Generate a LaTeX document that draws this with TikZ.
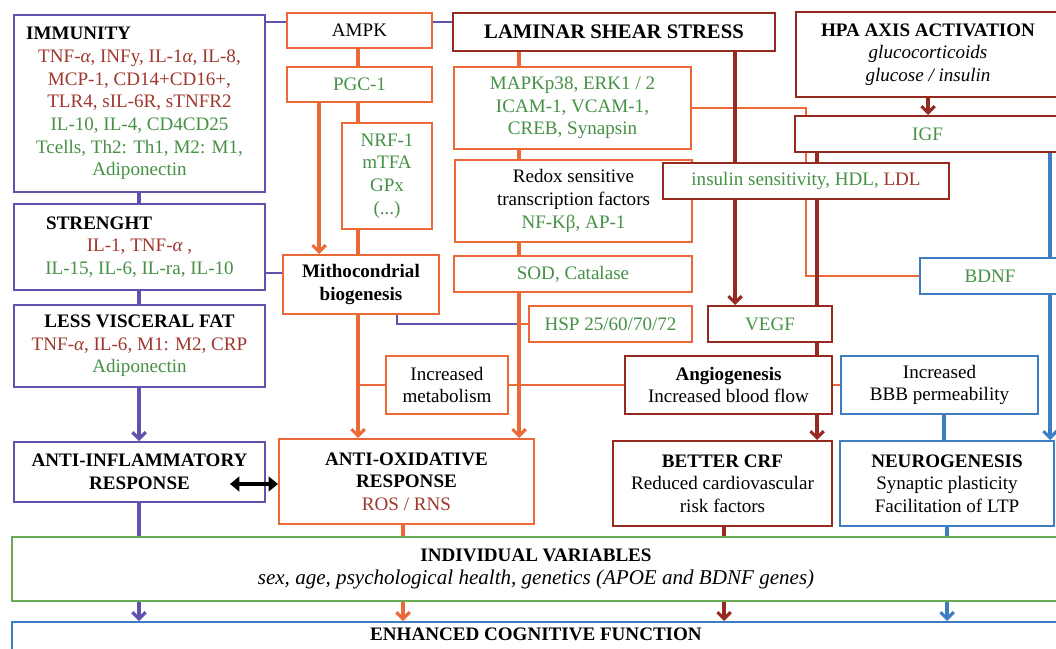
\documentclass[tikz,border=0pt]{standalone}
\usepackage{fontspec}
\setmainfont{Liberation Serif}
\usetikzlibrary{arrows.meta,calc}
\pgfdeclarelayer{back}
\pgfsetlayers{back,main}
\definecolor{cPur}{RGB}{100,80,175}
\definecolor{cOra}{RGB}{235,105,55}
\definecolor{cRed}{RGB}{150,42,32}
\definecolor{cBlu}{RGB}{60,125,195}
\definecolor{cGrnT}{RGB}{70,145,70}
\definecolor{cGrnB}{RGB}{105,170,85}
\definecolor{cRedT}{RGB}{160,55,45}
\newcommand{\gt}[1]{\textcolor{cGrnT}{#1}}
\newcommand{\rt}[1]{\textcolor{cRedT}{#1}}
\newcommand{\al}{{\itshape α}}
% box node from its corner coordinates: options, name, x1, y1, x2, y2, text
\newcommand{\putbox}[7]{%
  \pgfmathsetmacro{\bxX}{(#3+#5)/2}%
  \pgfmathsetmacro{\bxY}{(#4+#6)/2}%
  \pgfmathsetmacro{\bxW}{(#5-#3)*0.75}%
  \pgfmathsetmacro{\bxH}{(#6-#4)*0.75}%
  \node[#1, minimum width=\bxW pt, minimum height=\bxH pt] (#2) at (\bxX,\bxY) {#7};}
\begin{document}
\begin{tikzpicture}[x=0.75pt,y=-0.75pt,
  font=\fontsize{14.3}{17}\selectfont,
  bx/.style={draw=#1, line width=1.5pt, fill=white, inner sep=0pt, align=center},
  wthick/.style={draw=#1, line width=2.3pt},
  wmid/.style={draw=#1, line width=1.5pt},
  wthin/.style={draw=#1, line width=1.1pt},
  arr/.style={-{Straight Barb[length=5pt,width=10pt]}}]
\useasboundingbox (0,0) rectangle (1056,649);
\begin{pgfonlayer}{back}
  \fill[white] (0,0) rectangle (1056,649);
\end{pgfonlayer}

% column and row positions of the connectors
\coordinate (xA) at (139,0);
\coordinate (x319) at (319,0);
\coordinate (x358) at (358,0);
\coordinate (x397) at (397,0);
\coordinate (x403) at (403,0);
\coordinate (x519) at (519,0);
\coordinate (x724) at (724,0);
\coordinate (x735) at (735,0);
\coordinate (x806) at (806,0);
\coordinate (x817) at (817,0);
\coordinate (x928) at (928,0);
\coordinate (x944) at (944,0);
\coordinate (x947) at (947,0);
\coordinate (x1050) at (1050,0);
\coordinate (y22) at (0,22);
\coordinate (y108) at (0,108);
\coordinate (y273) at (0,273);
\coordinate (jHsp) at (519,324);
\coordinate (dblL) at (230,484);

% left column: immunity / strength / fat
\putbox{bx=cPur}{immu}{14}{15}{265}{192}{\makebox[170pt][l]{\textbf{IMMUNITY}}\\
  \rt{TNF-\al, INFy, IL-1\al, IL-8,}\\ \rt{MCP-1, CD14+CD16+,}\\ \rt{TLR4, sIL-6R, sTNFR2}\\
  \gt{IL-10, IL-4, CD4CD25}\\ \gt{Tcells, Th2: Th1, M2: M1,}\\ \gt{Adiponectin}}
\putbox{bx=cPur}{stre}{14}{204}{265}{290}{\makebox[140pt][l]{\textbf{STRENGHT}}\\
  \rt{IL-1, TNF-\al\ ,}\\ \gt{IL-15, IL-6, IL-ra, IL-10}}
\putbox{bx=cPur}{less}{14}{305}{265}{387}{\textbf{LESS VISCERAL FAT}\\
  \rt{TNF-\al, IL-6, M1: M2, CRP}\\ \gt{Adiponectin}}
\putbox{bx=cPur, font=\fontsize{14.3}{17}\selectfont\bfseries}{ainf}{14}{442}{265}{502}{ANTI-INFLAMMATORY\\ RESPONSE}

% AMPK branch
\putbox{bx=cOra}{ampk}{287}{13}{432}{48}{AMPK}
\putbox{bx=cOra, text=cGrnT}{pgc}{287}{67}{432}{102}{PGC-1}
\putbox{bx=cOra, text=cGrnT}{nrf}{342}{123}{432}{229}{NRF-1\\ mTFA\\ GPx\\ (...)}
\putbox{bx=cOra, font=\fontsize{14.3}{17}\selectfont\bfseries}{mito}{283}{255}{439}{314}{Mithocondrial\\ biogenesis}
\putbox{bx=cOra}{metab}{386}{356}{508}{414}{Increased\\ metabolism}
\putbox{bx=cOra}{aox}{279}{439}{534}{524}{\textbf{ANTI-OXIDATIVE}\\ \textbf{RESPONSE}\\ \rt{ROS / RNS}}

% laminar shear stress branch
\putbox{bx=cRed, font=\fontsize{15.5}{18}\selectfont\bfseries}{lam}{453}{13}{775}{51}{LAMINAR SHEAR STRESS}
\putbox{bx=cOra, text=cGrnT}{mapk}{454}{67}{691}{149}{MAPKp38, ERK1 / 2\\ ICAM-1, VCAM-1,\\ CREB, Synapsin}
\putbox{bx=cOra}{redox}{455}{160}{692}{242}{Redox sensitive\\ transcription factors\\ \gt{NF-Kβ, AP-1}}
\putbox{bx=cOra, text=cGrnT}{sod}{454}{256}{692}{292}{SOD, Catalase}
\putbox{bx=cOra, text=cGrnT}{hsp}{529}{306}{692}{342}{HSP 25/60/70/72}
\putbox{bx=cRed}{ins}{663}{163}{949}{199}{\gt{insulin sensitivity, HDL,} \rt{LDL}}
\putbox{bx=cRed, text=cGrnT}{vegf}{708}{306}{832}{342}{VEGF}
\putbox{bx=cRed}{angio}{625}{356}{832}{414}{\textbf{Angiogenesis}\\ Increased blood flow}
\putbox{bx=cRed}{crf}{613}{441}{832}{526}{\textbf{BETTER CRF}\\ Reduced cardiovascular\\ risk factors}

% HPA axis branch
\putbox{bx=cRed}{hpa}{796}{12}{1060}{97}{\textbf{HPA AXIS ACTIVATION}\\ \textit{glucocorticoids}\\ \textit{glucose / insulin}}
\putbox{bx=cRed, text=cGrnT}{igf}{795}{116}{1060}{152}{IGF}
\putbox{bx=cBlu, text=cGrnT}{bdnf}{920}{258}{1060}{294}{BDNF}
\putbox{bx=cBlu}{bbb}{841}{356}{1038}{414}{Increased\\ BBB permeability}
\putbox{bx=cBlu}{neuro}{840}{441}{1054}{526}{\textbf{NEUROGENESIS}\\ Synaptic plasticity\\ Facilitation of LTP}

% bottom bands
\putbox{bx=cGrnB}{indiv}{12}{537}{1060}{601}{\textbf{INDIVIDUAL VARIABLES}\\
  {\fontsize{15.8}{19}\selectfont\itshape sex, age, psychological health, genetics (APOE and BDNF genes)}}
\putbox{bx=cBlu}{enh}{12}{622}{1060}{690}{}
\node[font=\fontsize{14.3}{17}\selectfont\bfseries] (enhtxt) at (536,634) {ENHANCED COGNITIVE FUNCTION};

\begin{pgfonlayer}{back}
  % purple connectors
  \draw[wthin=cPur] (immu.east |- y22) -- (ampk.west |- y22);
  \draw[wthin=cPur] (ampk.east |- y22) -- (lam.west |- y22);
  \draw[wthick=cPur] (immu.south -| xA) -- (stre.north -| xA);
  \draw[wthick=cPur] (stre.south -| xA) -- (less.north -| xA);
  \draw[wthick=cPur, arr] (less.south -| xA) -- (ainf.north -| xA);
  \draw[wthick=cPur] (ainf.south -| xA) -- (indiv.north -| xA);
  \draw[wthick=cPur, arr] (indiv.south -| xA) -- (enh.north -| xA);
  \draw[wmid=cPur] (stre.east |- y273) -- (mito.west |- y273);
  \draw[wthin=cPur] (mito.south -| x397) |- (jHsp);
  % orange connectors
  \draw[wthick=cOra] (ampk.south -| x358) -- (pgc.north -| x358);
  \draw[wthick=cOra, arr] (pgc.south -| x319) -- (mito.north -| x319);
  \draw[wthick=cOra] (pgc.south -| x358) -- (nrf.north -| x358);
  \draw[wthick=cOra] (nrf.south -| x358) -- (mito.north -| x358);
  \draw[wthick=cOra, arr] (mito.south -| x358) -- (aox.north -| x358);
  \draw[wmid=cOra] (metab.west) -- (metab.west -| x358);
  \draw[wmid=cOra] (metab.east) -- (angio.west);
  \draw[wmid=cOra] (angio.east) -- (bbb.west);
  \draw[wthick=cOra] (lam.south -| x519) -- (mapk.north -| x519);
  \draw[wthick=cOra] (mapk.south -| x519) -- (redox.north -| x519);
  \draw[wthick=cOra] (redox.south -| x519) -- (sod.north -| x519);
  \draw[wthick=cOra, arr] (sod.south -| x519) -- (aox.north -| x519);
  \draw[wthin=cOra] (hsp.west |- jHsp) -- (jHsp);
  \draw[wthin=cOra] (mapk.east |- y108) -| (bdnf.west -| x806) -- (bdnf.west);
  \draw[wthick=cOra] (aox.south -| x403) -- (indiv.north -| x403);
  \draw[wthick=cOra, arr] (indiv.south -| x403) -- (enh.north -| x403);
  % dark red connectors
  \draw[wthick=cRed, arr] (lam.south -| x735) -- (vegf.north -| x735);
  \draw[wthick=cRed, arr] (hpa.south -| x928) -- (igf.north -| x928);
  \draw[wthick=cRed] (igf.south -| x817) -- (ins.north -| x817);
  \draw[wthick=cRed] (ins.south -| x817) -- (vegf.north -| x817);
  \draw[wthick=cRed] (vegf.south -| x817) -- (angio.north -| x817);
  \draw[wthick=cRed, arr] (angio.south -| x817) -- (crf.north -| x817);
  \draw[wthick=cRed] (crf.south -| x724) -- (indiv.north -| x724);
  \draw[wthick=cRed, arr] (indiv.south -| x724) -- (enh.north -| x724);
  % blue connectors
  \draw[wthick=cBlu] (igf.south -| x1050) -- (bdnf.north -| x1050);
  \draw[wthick=cBlu, arr] (bdnf.south -| x1050) -- (neuro.north -| x1050);
  \draw[wthick=cBlu] (bbb.south -| x944) -- (neuro.north -| x944);
  \draw[wthick=cBlu] (neuro.south -| x947) -- (indiv.north -| x947);
  \draw[wthick=cBlu, arr] (indiv.south -| x947) -- (enh.north -| x947);
\end{pgfonlayer}
% link between the two responses
\draw[line width=3.5pt, {Triangle[length=7pt,width=11pt]}-{Triangle[length=7pt,width=11pt]}] (dblL) -- (aox.west |- dblL);
\end{tikzpicture}
\end{document}
